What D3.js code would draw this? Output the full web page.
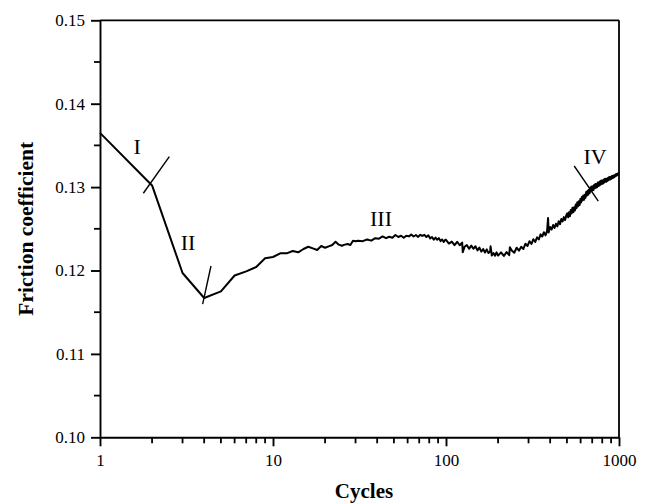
<!DOCTYPE html>
<html>
<head>
<meta charset="utf-8">
<script src="https://cdn.jsdelivr.net/npm/d3@7"></script>
<style>
  html, body { margin: 0; padding: 0; background: #fff; }
  svg { display: block; }
  text { font-family: "Liberation Serif", "DejaVu Serif", serif; fill: #000; }
</style>
</head>
<body>
<svg id="chart" width="646" height="503"></svg>
<script>
// ---------- data ----------
const xTickValues = [1, 10, 100, 1000];
const xTickLabels = ["1", "10", "100", "1000"];
const xMinorValues = [2, 3, 4, 5, 6, 7, 8, 9, 20, 30, 40, 50, 60, 70, 80, 90, 200, 300, 400, 500, 600, 700, 800, 900];
const yTickValues = [0.10, 0.11, 0.12, 0.13, 0.14, 0.15];
const yTickLabels = ["0.10", "0.11", "0.12", "0.13", "0.14", "0.15"];
const yMinorValues = [0.105, 0.115, 0.125, 0.135, 0.145];

// cycles 1..30
const cyclesA = [1, 2, 3, 4, 5, 6, 7, 8, 9, 10, 11, 12, 13, 14, 15, 16, 17, 18, 19, 20, 21, 22, 23, 24, 25, 26, 27, 28, 29, 30];
const frictionA = [0.1365, 0.1302, 0.1197, 0.1167, 0.1175, 0.1194, 0.1199, 0.12042, 0.12146, 0.12162,
  0.12206, 0.12206, 0.12234, 0.12218, 0.12258, 0.12285, 0.12265, 0.12246, 0.12294, 0.12273,
  0.12290, 0.12306, 0.12345, 0.12310, 0.12297, 0.12310, 0.12318, 0.12306, 0.12357, 0.12350];

// cycles 31..99
const cyclesB = [31, 33, 35, 37, 39, 41, 43, 45, 47, 49, 51, 53, 55, 57, 59, 61, 63, 65, 67, 69,
  71, 73, 75, 77, 79, 81, 83, 85, 87, 89, 91, 93, 95, 97, 99];
const frictionB = [0.12357, 0.12352, 0.12371, 0.12358, 0.12388, 0.12382, 0.12408, 0.12388, 0.12405, 0.12393,
  0.12426, 0.12402, 0.12417, 0.12393, 0.12417, 0.12409, 0.12430, 0.12408, 0.12426, 0.12403,
  0.12428, 0.12414, 0.12427, 0.12402, 0.12422, 0.12385, 0.12401, 0.12370, 0.12395, 0.12368,
  0.12388, 0.12352, 0.12371, 0.12341, 0.12368];

// cycles 100..200
const cyclesC = [100, 104, 108, 112, 116, 120, 124, 125, 128, 132, 136, 140, 144, 148, 152, 156, 160, 164, 168, 172,
  176, 180, 181, 184, 188, 192, 196, 200];
const frictionC = [0.12368, 0.12323, 0.12346, 0.12304, 0.12344, 0.12303, 0.12335, 0.12220, 0.12284, 0.12304,
  0.12260, 0.12298, 0.12260, 0.12291, 0.12241, 0.12275, 0.12227, 0.12258, 0.12215, 0.12253,
  0.12209, 0.12229, 0.12290, 0.12179, 0.12210, 0.12177, 0.12218, 0.12179];

// cycles 208..496
const cyclesD = [208, 216, 224, 232, 234, 240, 248, 256, 264, 272, 280, 288, 296, 304, 312, 320, 328, 336, 344, 352,
  360, 368, 376, 384, 389, 392, 400, 408, 416, 424, 432, 440, 448, 456, 464, 472, 480, 488, 496];
const frictionD = [0.12217, 0.12175, 0.12220, 0.12184, 0.12280, 0.12240, 0.12213, 0.12273, 0.12237, 0.12284,
  0.12258, 0.12321, 0.12294, 0.12351, 0.12318, 0.12375, 0.12342, 0.12398, 0.12372, 0.12433,
  0.12407, 0.12459, 0.12421, 0.12476, 0.12630, 0.12455, 0.12521, 0.12491, 0.12545, 0.12509,
  0.12561, 0.12529, 0.12591, 0.12556, 0.12617, 0.12588, 0.12640, 0.12604, 0.12663];

// cycles 502..1000
const cyclesE = [502, 508, 514, 520, 526, 532, 538, 544, 550, 556, 562, 568, 574, 580, 586, 592, 598, 604, 610, 616,
  622, 628, 634, 640, 646, 652, 658, 664, 670, 676, 682, 688, 694, 700, 706, 712, 718, 724, 730, 736,
  742, 748, 754, 760, 766, 772, 778, 784, 790, 796, 802, 808, 814, 820, 826, 832, 838, 844, 850, 856,
  862, 868, 874, 880, 886, 892, 898, 904, 910, 916, 922, 928, 934, 940, 946, 952, 958, 964, 970, 976,
  982, 988, 994, 1000];
const frictionE = [0.12685, 0.12637, 0.12699, 0.12650, 0.12725, 0.12684, 0.12752, 0.12698, 0.12759, 0.12718,
  0.12791, 0.12747, 0.12818, 0.12769, 0.12830, 0.12785, 0.12858, 0.12816, 0.12882, 0.12840,
  0.12900, 0.12847, 0.12907, 0.12871, 0.12942, 0.12897, 0.12955, 0.12909, 0.12969, 0.12925,
  0.12994, 0.12948, 0.13008, 0.12957, 0.13011, 0.12964, 0.13026, 0.12985, 0.13038, 0.12991,
  0.13038, 0.12999, 0.13054, 0.13012, 0.13059, 0.13018, 0.13069, 0.13032, 0.13078, 0.13037,
  0.13077, 0.13042, 0.13088, 0.13053, 0.13097, 0.13063, 0.13099, 0.13064, 0.13101, 0.13072,
  0.13109, 0.13082, 0.13117, 0.13090, 0.13120, 0.13092, 0.13123, 0.13100, 0.13132, 0.13110,
  0.13135, 0.13112, 0.13139, 0.13120, 0.13146, 0.13129, 0.13154, 0.13136, 0.13157, 0.13142,
  0.13164, 0.13150, 0.13169, 0.13159];

// stage annotations (data coordinates)
const stageNames = ["I", "II", "III", "IV"];
const stageCycles = [1.64, 3.23, 42.1, 727];
const stageValues = [0.13481, 0.12336, 0.12618, 0.13367];
// dividing strokes between stages: [cycle, value] start / end
const dividerStart = [[1.78, 0.12926], [3.92, 0.11598], [551, 0.13253]];
const dividerEnd = [[2.516, 0.13365], [4.38, 0.12054], [759, 0.12833]];

// ---------- chart ----------
const svg = d3.select("#chart");
const mLeft = 100, mRight = 619, mTop = 20.3, mBottom = 437.3;

const x = d3.scaleLog().domain([1, 1000]).range([mLeft, mRight]);
const y = d3.scaleLinear().domain([0.10, 0.15]).range([mBottom, mTop]);

const allCycles = [].concat(cyclesA, cyclesB, cyclesC, cyclesD, cyclesE);
const allFriction = [].concat(frictionA, frictionB, frictionC, frictionD, frictionE);
const series = allCycles.map((c, i) => [c, allFriction[i]]);

// frame (top & right)
svg.append("line").attr("x1", mLeft).attr("x2", mRight).attr("y1", mTop).attr("y2", mTop)
  .attr("stroke", "#000").attr("stroke-width", 1.8);
svg.append("line").attr("x1", mRight).attr("x2", mRight).attr("y1", mTop).attr("y2", mBottom)
  .attr("stroke", "#000").attr("stroke-width", 1.8);

// minor ticks (drawn through the scales)
svg.append("g").selectAll("line").data(xMinorValues).join("line")
  .attr("x1", d => x(d)).attr("x2", d => x(d))
  .attr("y1", mBottom).attr("y2", mBottom + 6)
  .attr("stroke", "#000").attr("stroke-width", 1.8);
svg.append("g").selectAll("line").data(yMinorValues).join("line")
  .attr("x1", mLeft - 6).attr("x2", mLeft)
  .attr("y1", d => y(d)).attr("y2", d => y(d))
  .attr("stroke", "#000").attr("stroke-width", 1.8);

// x major
svg.append("g").attr("transform", `translate(0,${mBottom})`)
  .call(d3.axisBottom(x).tickValues(xTickValues).tickSize(9).tickPadding(8)
    .tickFormat((d, i) => xTickLabels[i]).tickSizeOuter(0))
  .call(g => g.select(".domain").attr("stroke-width", 1.9).attr("stroke", "#000"))
  .call(g => g.selectAll(".tick line").attr("stroke-width", 1.9).attr("stroke", "#000"))
  .call(g => g.selectAll("text").style("font-size", "17px").attr("font-family", "Liberation Serif"));

// y major
svg.append("g").attr("transform", `translate(${mLeft},0)`)
  .call(d3.axisLeft(y).tickValues(yTickValues).tickSize(9).tickPadding(6)
    .tickFormat((d, i) => yTickLabels[i]).tickSizeOuter(0))
  .call(g => g.select(".domain").attr("stroke-width", 1.9).attr("stroke", "#000"))
  .call(g => g.selectAll(".tick line").attr("stroke-width", 1.9).attr("stroke", "#000"))
  .call(g => g.selectAll("text").style("font-size", "17px").attr("font-family", "Liberation Serif"));

// data line
svg.append("path")
  .datum(series)
  .attr("fill", "none")
  .attr("stroke", "#000")
  .attr("stroke-width", 2)
  .attr("stroke-linejoin", "round")
  .attr("d", d3.line().x(d => x(d[0])).y(d => y(d[1])));

// dividers
dividerStart.forEach((s, i) => {
  const e = dividerEnd[i];
  svg.append("line")
    .attr("x1", x(s[0])).attr("y1", y(s[1]))
    .attr("x2", x(e[0])).attr("y2", y(e[1]))
    .attr("stroke", "#000").attr("stroke-width", 1.4);
});

// stage labels
stageNames.forEach((n, i) => {
  svg.append("text")
    .attr("x", x(stageCycles[i])).attr("y", y(stageValues[i]))
    .attr("text-anchor", "middle")
    .attr("dominant-baseline", "central")
    .style("font-size", "22px")
    .text(n);
});

// axis titles
svg.append("text")
  .attr("x", 364).attr("y", 498)
  .attr("text-anchor", "middle")
  .style("font-size", "21px").style("font-weight", "bold")
  .text("Cycles");

svg.append("text")
  .attr("transform", `translate(33,${(mTop + mBottom) / 2}) rotate(-90)`)
  .attr("text-anchor", "middle")
  .style("font-size", "21.5px").style("font-weight", "bold")
  .text("Friction coefficient");
</script>
</body>
</html>
